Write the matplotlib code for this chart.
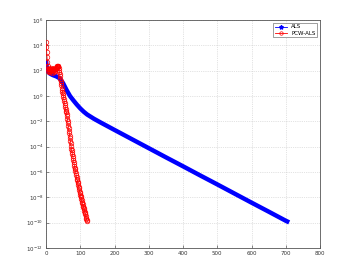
import numpy as np
import matplotlib
matplotlib.use('Agg')
import matplotlib.pyplot as plt
from matplotlib.lines import Line2D
from matplotlib.ticker import LogFormatterMathtext, NullLocator

# ALS: iteration / log10(residual)
als_iter = [0, 1, 2, 3, 5, 7, 10, 15, 20, 30, 40, 50, 60, 70, 80, 90,
            100, 110, 120, 140, 160, 180, 200, 250, 300, 350, 400, 450,
            500, 550, 600, 650, 700, 710]
als_log = [2.83, 2.5, 2.3, 2.15, 2.0, 1.9, 1.8, 1.72, 1.65, 1.55, 1.4, 1.0,
           0.47, 0.0, -0.35, -0.68, -0.98, -1.24, -1.46, -1.8, -2.1, -2.39,
           -2.68, -3.4, -4.12, -4.84, -5.55, -6.27, -6.98, -7.7, -8.42,
           -9.13, -9.85, -9.98]

# PCW-ALS: one value per iteration 0..120
pcw_log = [4.3, 3.9, 3.5, 3.1, 2.7, 2.4, 2.1, 2.0, 2.2, 1.9,
           2.1, 1.95, 2.15, 1.9, 2.05, 2.2, 1.95, 2.1, 1.85, 2.05,
           2.15, 1.95, 2.05, 2.2, 1.9, 2.1, 2.0, 2.15, 2.2, 2.1,
           2.25, 2.3, 2.35, 2.4, 2.35, 2.4, 2.3, 2.2, 2.05, 1.9,
           1.75, 1.55, 1.35, 1.2, 1.0, 0.85, 0.65, 0.5, 0.35, 0.2,
           0.05, -0.1, -0.25, -0.4, -0.55, -0.7, -0.85, -1.0, -1.15, -1.3,
           -1.45, -1.6, -1.8, -1.95, -2.15, -2.35, -2.55, -2.75, -2.95, -3.15,
           -3.35, -3.55, -3.75, -3.95, -4.15, -4.3, -4.45, -4.6, -4.75, -4.9,
           -5.05, -5.2, -5.35, -5.5, -5.65, -5.8, -5.95, -6.1, -6.25, -6.4,
           -6.55, -6.65, -6.8, -6.9, -7.05, -7.15, -7.3, -7.4, -7.55, -7.65,
           -7.8, -7.9, -8.0, -8.15, -8.25, -8.35, -8.45, -8.55, -8.65, -8.75,
           -8.85, -8.95, -9.05, -9.15, -9.25, -9.35, -9.5, -9.6, -9.7, -9.8,
           -9.9]
pcw_iter = list(range(len(pcw_log)))

x_ticks = [0, 100, 200, 300, 400, 500, 600, 700, 800]
y_ticks = [1e-12, 1e-10, 1e-8, 1e-6, 1e-4, 1e-2, 1e0, 1e2, 1e4, 1e6]
labels = ['ALS', 'PCW-ALS']

fig = plt.figure(figsize=(3.54, 2.78), dpi=100)
ax = fig.add_axes([0.13, 0.108, 0.774, 0.82])

# ALS als dicker Strich (dichte Sternmarker im Original)
ax.semilogy(als_iter, 10.0 ** np.array(als_log), '-', color='blue',
            lw=3.2, solid_capstyle='butt', solid_joinstyle='round', zorder=3)
# PCW-ALS mit offenen Kreisen
ax.semilogy(pcw_iter, 10.0 ** np.array(pcw_log), '-', color='red', lw=0.5,
            marker='o', ms=3.3, mfc='none', mec='red', mew=0.5, zorder=4)

ax.set_xlim(0, 800)
ax.set_ylim(1e-12, 1e6)
ax.set_xticks(x_ticks)
ax.set_yticks(y_ticks)
ax.yaxis.set_minor_locator(NullLocator())
ax.yaxis.set_major_formatter(LogFormatterMathtext())
ax.tick_params(direction='in', labelsize=4, length=2, width=0.4, pad=2,
               colors='#333333')
ax.grid(True, ls=':', lw=0.5, color='#c8c8c8')
for s in ax.spines.values():
    s.set_linewidth(0.6)
    s.set_color('#555555')

handles = [Line2D([], [], color='blue', lw=0.6, marker='*', ms=3),
           Line2D([], [], color='red', lw=0.6, marker='o', ms=2.5,
                  mfc='none', mew=0.5)]
leg = ax.legend(handles, labels, loc='upper right', fontsize=4,
                fancybox=False, framealpha=1, edgecolor='#555555',
                handlelength=2.2, borderpad=0.3, labelspacing=0.2,
                borderaxespad=0.5)
leg.get_frame().set_linewidth(0.4)

fig.savefig('out.png', dpi=100)
